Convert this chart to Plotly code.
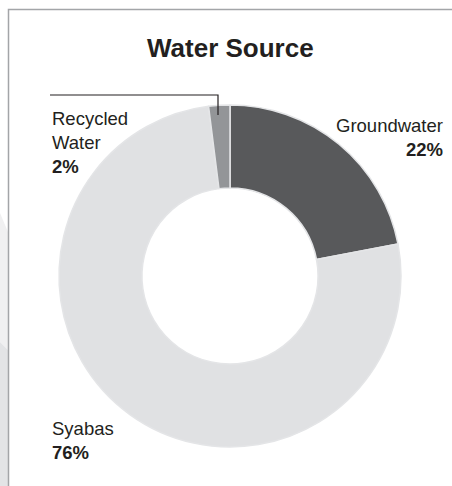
import plotly.graph_objects as go

# ---- data ----
labels = ["Groundwater", "Syabas", "Recycled Water"]
values = [22, 76, 2]
label_lines = [["Groundwater"], ["Syabas"], ["Recycled", "Water"]]
pct_text = ["22%", "76%", "2%"]
colors = ["#58595b", "#e0e1e3", "#939598"]
title_text = "Water Source"

W, H = 452, 486
def px(x):
    return x / W
def py(y):
    return 1 - y / H

cx, cy, r = 230, 276, 171

fig = go.Figure()
fig.add_trace(go.Pie(
    labels=labels, values=values, sort=False, direction="clockwise", rotation=0,
    hole=0.515, textinfo="none", hoverinfo="label+percent",
    marker=dict(colors=colors, line=dict(color="#e4e5e7", width=1.5)),
    domain=dict(x=[px(cx - r), px(cx + r)], y=[py(cy + r), py(cy - r)]),
    showlegend=False,
))

font_family = "Liberation Sans, Arial, Helvetica, sans-serif"
FS = 18.5

def lbl(i):
    return "<br>".join(label_lines[i]) + "<br><b>" + pct_text[i] + "</b>"

annotations = [
    dict(text="<b>" + title_text + "</b>", x=px(230), y=py(48), xanchor="center", yanchor="middle",
         font=dict(size=26, color="#231f20", family=font_family)),
    dict(text=lbl(0), x=px(445), y=py(113), xanchor="right", yanchor="top", align="right",
         font=dict(size=FS, color="#231f20", family=font_family)),
    dict(text=lbl(2), x=px(50), y=py(105.5), xanchor="left", yanchor="top", align="left",
         font=dict(size=FS, color="#231f20", family=font_family)),
    dict(text=lbl(1), x=px(50), y=py(416), xanchor="left", yanchor="top", align="left",
         font=dict(size=FS, color="#231f20", family=font_family)),
]
for a in annotations:
    a.update(xref="paper", yref="paper", showarrow=False)

shapes = [
    # page background wedges at left
    dict(type="path", path="M 0 213 L 8 232 L 8 350 L 0 342 Z", xref="x", yref="y",
         fillcolor="#f0f0f1", line=dict(width=0), layer="below"),
    dict(type="path", path="M 0 342 L 8 350 L 8 486 L 0 486 Z", xref="x", yref="y",
         fillcolor="#e3e4e6", line=dict(width=0), layer="below"),
    # frame
    dict(type="path", path="M 8.5 486 L 8.5 9.5 L 452 9.5", xref="x", yref="y",
         line=dict(color="#a3a5a8", width=1.5)),
    # leader line
    dict(type="path", path="M 50 95 L 218 95 L 218 115", xref="x", yref="y",
         line=dict(color="#231f20", width=1.2)),
]

fig.update_layout(
    width=W, height=H, margin=dict(l=0, r=0, t=0, b=0),
    paper_bgcolor="white", plot_bgcolor="rgba(0,0,0,0)",
    xaxis=dict(range=[0, W], visible=False, fixedrange=True),
    yaxis=dict(range=[H, 0], visible=False, fixedrange=True),
    annotations=annotations, shapes=shapes,
)

fig.write_html("out.html")
